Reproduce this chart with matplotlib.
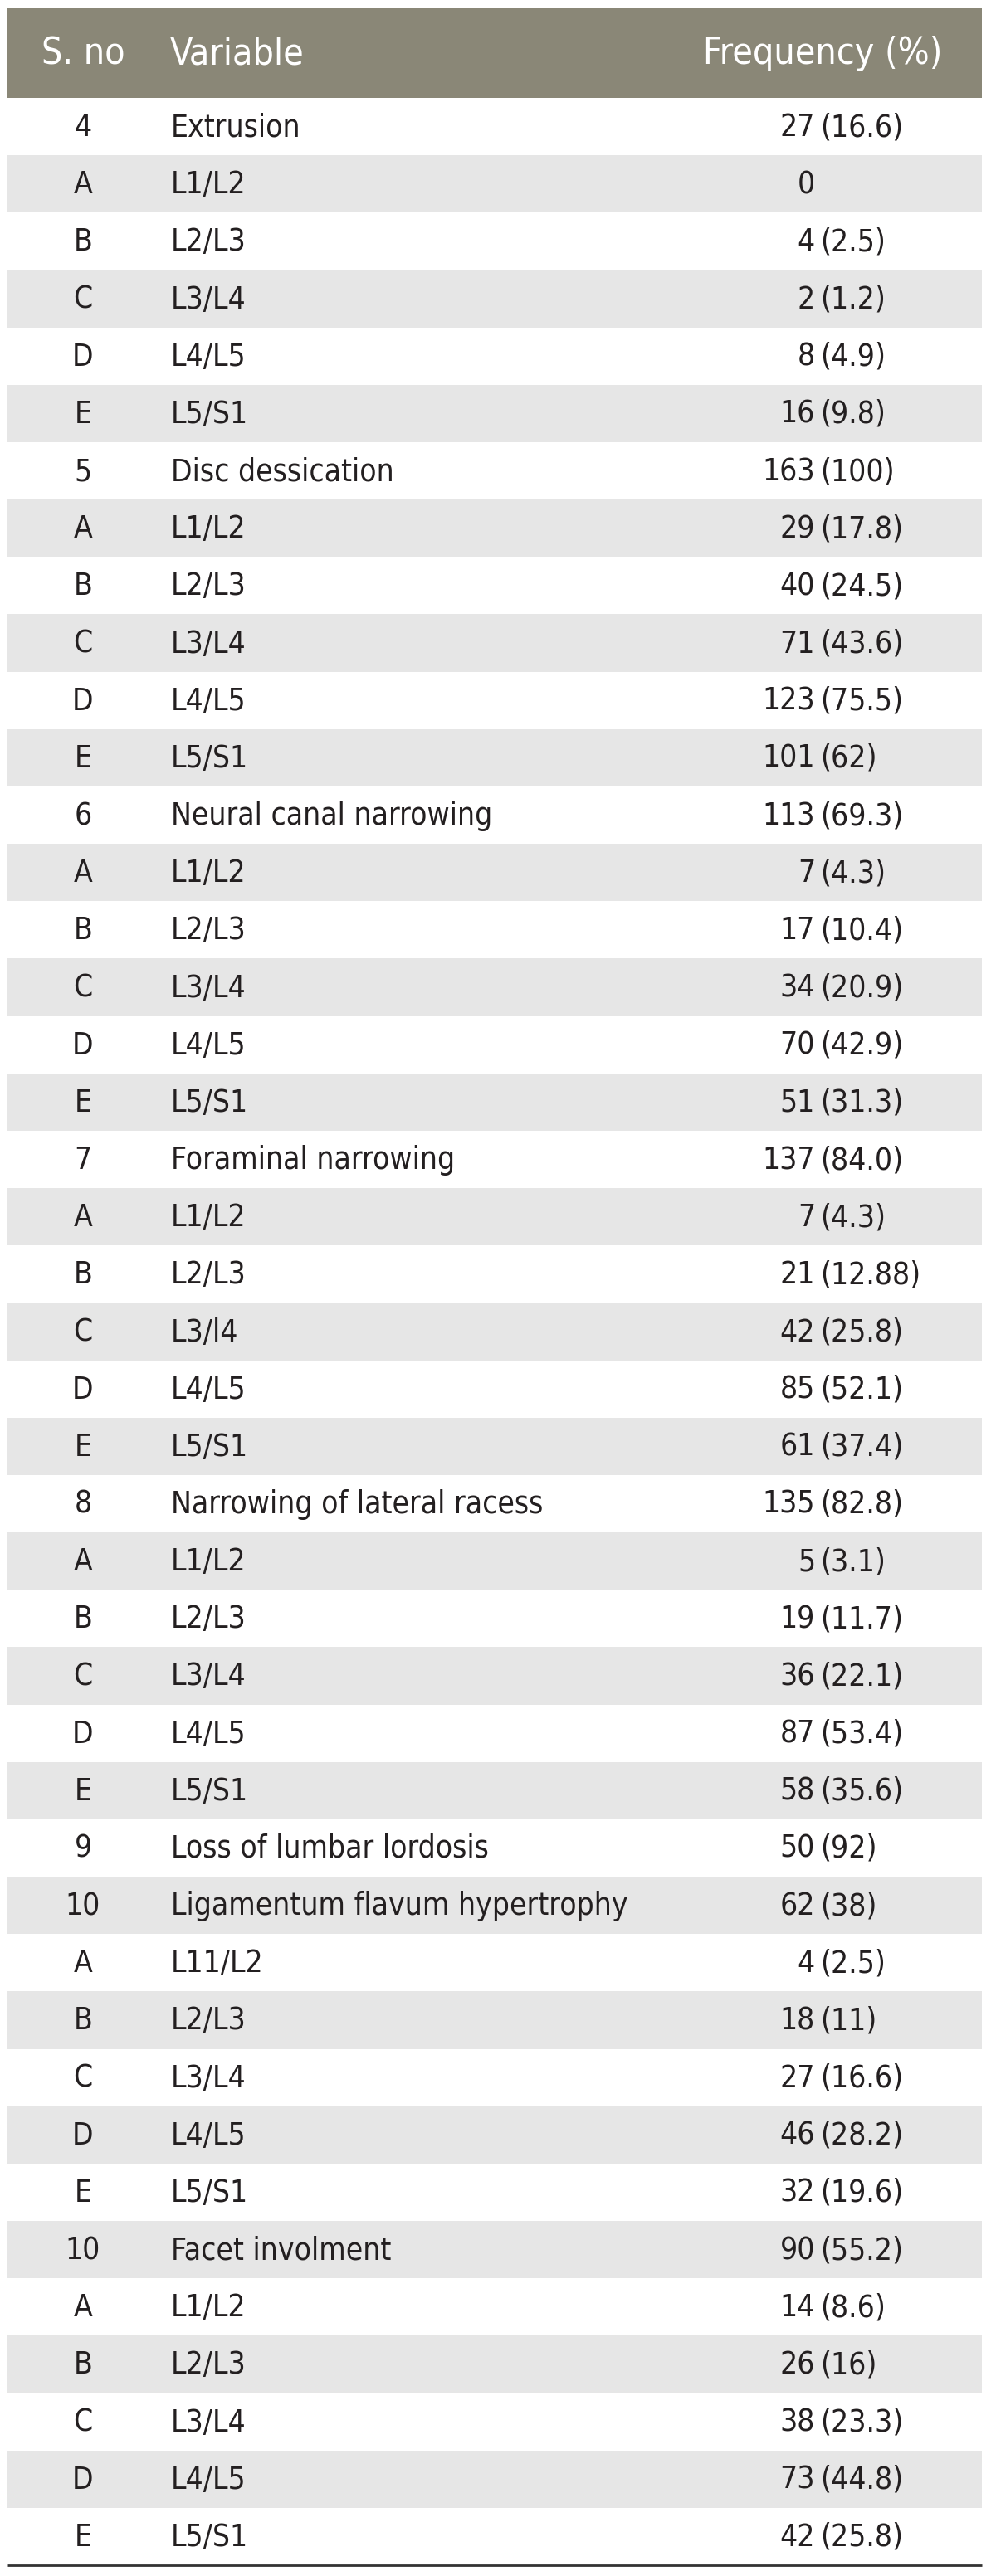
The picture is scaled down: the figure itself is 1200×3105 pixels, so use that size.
import matplotlib
matplotlib.use("Agg")
import matplotlib.pyplot as plt
from matplotlib import font_manager as fm

# ---- data ----
sno = ["4", "A", "B", "C", "D", "E",
       "5", "A", "B", "C", "D", "E",
       "6", "A", "B", "C", "D", "E",
       "7", "A", "B", "C", "D", "E",
       "8", "A", "B", "C", "D", "E",
       "9",
       "10", "A", "B", "C", "D", "E",
       "10", "A", "B", "C", "D", "E"]
variables = ["Extrusion", "L1/L2", "L2/L3", "L3/L4", "L4/L5", "L5/S1",
             "Disc dessication", "L1/L2", "L2/L3", "L3/L4", "L4/L5", "L5/S1",
             "Neural canal narrowing", "L1/L2", "L2/L3", "L3/L4", "L4/L5", "L5/S1",
             "Foraminal narrowing", "L1/L2", "L2/L3", "L3/l4", "L4/L5", "L5/S1",
             "Narrowing of lateral racess", "L1/L2", "L2/L3", "L3/L4", "L4/L5", "L5/S1",
             "Loss of lumbar lordosis",
             "Ligamentum flavum hypertrophy", "L11/L2", "L2/L3", "L3/L4", "L4/L5", "L5/S1",
             "Facet involment", "L1/L2", "L2/L3", "L3/L4", "L4/L5", "L5/S1"]
counts = ["27", "0", "4", "2", "8", "16",
          "163", "29", "40", "71", "123", "101",
          "113", "7", "17", "34", "70", "51",
          "137", "7", "21", "42", "85", "61",
          "135", "5", "19", "36", "87", "58",
          "50",
          "62", "4", "18", "27", "46", "32",
          "90", "14", "26", "38", "73", "42"]
percents = ["16.6", "", "2.5", "1.2", "4.9", "9.8",
            "100", "17.8", "24.5", "43.6", "75.5", "62",
            "69.3", "4.3", "10.4", "20.9", "42.9", "31.3",
            "84.0", "4.3", "12.88", "25.8", "52.1", "37.4",
            "82.8", "3.1", "11.7", "22.1", "53.4", "35.6",
            "92",
            "38", "2.5", "11", "16.6", "28.2", "19.6",
            "55.2", "8.6", "16", "23.3", "44.8", "25.8"]
headers = ["S. no", "Variable", "Frequency (%)"]

# ---- font selection: prefer a condensed sans ----
def pick_font():
    cands = []
    for f in fm.fontManager.ttflist:
        nm = f.name.lower()
        fn = f.fname.lower()
        narrow = ("narrow" in nm or "condensed" in nm or "narrow" in fn or
                  "condensed" in fn or str(f.stretch) in ("condensed", "semi-condensed",
                                                          "extra-condensed", "ultra-condensed"))
        if not narrow:
            continue
        if f.style != "normal":
            continue
        w = f.weight if isinstance(f.weight, int) else 400
        if w not in (300, 400) and f.weight not in ("normal", "regular", "light"):
            continue
        if "mono" in nm or "serif" in nm and "sans" not in nm:
            continue
        score = 0
        if "bold" in fn or "italic" in fn or "oblique" in fn:
            continue
        if "sans" in nm or "roboto" in nm or "lato" in nm:
            score += 2
        if "semi" in fn or "semi" in nm:
            score -= 1
        cands.append((score, f.fname))
    if cands:
        cands.sort(key=lambda t: -t[0])
        return fm.FontProperties(fname=cands[0][1])
    for fam in ["Roboto", "Liberation Sans", "DejaVu Sans"]:
        try:
            fm.findfont(fam, fallback_to_default=False)
            return fm.FontProperties(family=fam)
        except Exception:
            pass
    return fm.FontProperties(family="DejaVu Sans")

FP = pick_font()
HEADER_BG = "#8a8777"
STRIPE = "#e6e6e6"
TXT = "#231f20"

W, H = 1200, 3105
fig = plt.figure(figsize=(W / 100, H / 100), dpi=100)
ax = fig.add_axes([0, 0, 1, 1])
ax.set_xlim(0, W)
ax.set_ylim(H, 0)
ax.axis("off")

# size font so a reference label has the reference width
probe = ax.text(0, 0, "Loss of lumbar lordosis", fontproperties=FP, fontsize=30)
fig.canvas.draw()
wpx = probe.get_window_extent().width
probe.remove()
FS = min(34.0, 30 * 383 / wpx)

def fprop(size):
    p = FP.copy()
    p.set_size(size)
    return p

P = fprop(FS)
PH = fprop(FS * 1.2)

left, right = 9, 1183
head_top, head_bot = 10, 118
table_bot = 3092
n = len(sno)
rh = (table_bot - head_bot) / n
centers = [head_bot + rh * (i + 0.5) for i in range(n)]

# header
ax.barh([(head_top + head_bot) / 2], [right - left], left=left,
        height=head_bot - head_top, color=HEADER_BG, linewidth=0)
hy = (head_top + head_bot) / 2 + 1
ax.text(100, hy, headers[0], ha="center", va="center", color="white", fontproperties=PH)
ax.text(205, hy, headers[1], ha="left", va="center", color="white", fontproperties=PH)
ax.text(1135, hy, headers[2], ha="right", va="center", color="white", fontproperties=PH)

# stripes
colors = ["white" if i % 2 == 0 else STRIPE for i in range(n)]
ax.barh(centers, [right - left] * n, left=left, height=rh, color=colors, linewidth=0)

# bottom rule
ax.plot([left, right], [table_bot, table_bot], color="#333333", linewidth=2,
        solid_capstyle="butt")

for i in range(n):
    y = centers[i] + 1
    ax.text(100, y, sno[i], ha="center", va="center", color=TXT, fontproperties=P)
    ax.text(206, y, variables[i], ha="left", va="center", color=TXT, fontproperties=P)
    ax.text(982, y, counts[i], ha="right", va="center", color=TXT, fontproperties=P)
    if percents[i]:
        ax.text(988, y, "(" + percents[i] + ")", ha="left", va="center", color=TXT,
                fontproperties=P)

fig.savefig("out.png", dpi=100, facecolor="white")
